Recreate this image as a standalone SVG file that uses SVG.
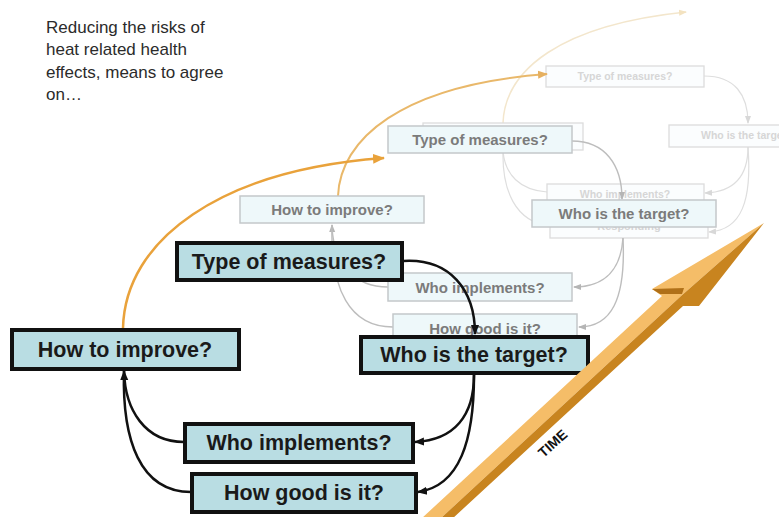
<svg xmlns="http://www.w3.org/2000/svg" width="779" height="517" viewBox="0 0 779 517">
<defs>
<style>
.txt{font-family:"Liberation Sans",Arial,sans-serif}
.fb rect{fill:#b9dde3;stroke:#111;stroke-width:4}
.fb text{font-family:"Liberation Sans",Arial,sans-serif;font-weight:bold;font-size:21.5px;fill:#1a1a1a;text-anchor:middle}
.mb rect{fill:#eef8fa;stroke:#c4c8ca;stroke-width:1.5}
.mb text{font-family:"Liberation Sans",Arial,sans-serif;font-weight:bold;font-size:15px;fill:#7b7b7b;text-anchor:middle}
.tb rect{fill:#fbfdfe;stroke:#dcdcdc;stroke-width:1.3}
.tb text{font-family:"Liberation Sans",Arial,sans-serif;font-weight:bold;font-size:10.5px;fill:#d6d6d6;text-anchor:middle}
.cf{fill:none;stroke:#111;stroke-width:2.5}
.cm{fill:none;stroke:#bdbdbd;stroke-width:1.4}
.ct{fill:none;stroke:#dedede;stroke-width:1.2}
</style>
<marker id="ab" markerWidth="10" markerHeight="10" refX="9" refY="5" orient="auto" markerUnits="userSpaceOnUse"><path d="M0,1 L10,5 L0,9 Z" fill="#111"/></marker>
<marker id="am" markerWidth="8" markerHeight="8" refX="7" refY="4" orient="auto" markerUnits="userSpaceOnUse"><path d="M0,1 L8,4 L0,7 Z" fill="#b5b5b5"/></marker>
<marker id="at" markerWidth="8" markerHeight="8" refX="7" refY="4" orient="auto" markerUnits="userSpaceOnUse"><path d="M0,1 L8,4 L0,7 Z" fill="#d8d8d8"/></marker>
<marker id="ao" markerWidth="12" markerHeight="12" refX="11" refY="6" orient="auto" markerUnits="userSpaceOnUse"><path d="M0,1 L12,6 L0,11 Z" fill="#e9a23b"/></marker>
<marker id="ao2" markerWidth="10" markerHeight="10" refX="9" refY="5" orient="auto" markerUnits="userSpaceOnUse"><path d="M0,1 L10,5 L0,9 Z" fill="#e6b060"/></marker>
<marker id="ao3" markerWidth="8" markerHeight="8" refX="7" refY="4" orient="auto" markerUnits="userSpaceOnUse"><path d="M0,1 L8,4 L0,7 Z" fill="#f3e2c0"/></marker>
</defs>
<rect width="779" height="517" fill="#fff"/>

<text class="txt" font-size="17" fill="#2b2b2b"><tspan x="46" y="33">Reducing the risks of</tspan><tspan x="46" y="55">heat related health</tspan><tspan x="46" y="78">effects, means to agree</tspan><tspan x="46" y="100">on…</tspan></text>

<!-- faint layer connectors -->
<g id="connectors-faint">
<path class="ct" d="M704,76 C735,76 748,95 748,123" marker-end="url(#at)"/>
<path class="ct" d="M748,147 C748,175 735,192 705,193" marker-end="url(#at)"/>
<path class="ct" d="M748,147 C752,200 742,230 709,232" marker-end="url(#at)"/>
<path class="ct" d="M547,192 C520,190 505,175 503,151"/>
<path class="ct" d="M550,226 C515,222 502,190 503,151"/>
<path d="M503,123 C505,70 560,25 686,12" fill="none" stroke="#f3e6cc" stroke-width="1.5" marker-end="url(#ao3)"/>
</g>

<!-- faint layer nodes -->
<g id="t-type" class="tb"><rect x="546" y="66" width="158" height="21"/><text x="625" y="80">Type of measures?</text></g>
<g id="t-target" class="tb"><rect x="669" y="125" width="130" height="22"/><text x="701" y="139" style="text-anchor:start">Who is the target?</text></g>
<g id="t-improve" class="tb"><rect x="423" y="123" width="160" height="27"/></g>
<g id="t-implements" class="tb"><rect x="547" y="184" width="157" height="22"/><text x="625" y="198">Who implements?</text></g>
<g id="t-responding" class="tb"><rect x="550" y="212" width="158" height="26"/><text x="629" y="230" style="font-size:11px">Responding</text></g>

<!-- middle layer connectors -->
<g id="connectors-middle">
<path class="cm" d="M572,141 C605,141 622,165 622,199" marker-end="url(#am)"/>
<path class="cm" d="M623,238 C621,268 606,287 574,287" marker-end="url(#am)"/>
<path class="cm" d="M623,238 C626,300 611,327 579,327" marker-end="url(#am)"/>
<path class="cm" d="M388,287 C355,287 333,265 332,225" marker-end="url(#am)"/>
<path class="cm" d="M393,327 C350,327 330,290 332,225"/>
<path d="M338,196 C340,140 400,85 547,74" fill="none" stroke="#e9b86a" stroke-width="2" marker-end="url(#ao2)"/>
</g>

<!-- middle layer nodes -->
<g id="m-type" class="mb"><rect x="388" y="126" width="184" height="27"/><text x="480" y="145">Type of measures?</text></g>
<g id="m-target" class="mb"><rect x="532" y="200" width="184" height="27"/><text x="624" y="219">Who is the target?</text></g>
<g id="m-improve" class="mb"><rect x="240" y="196" width="184" height="27"/><text x="332" y="215">How to improve?</text></g>
<g id="m-implements" class="mb"><rect x="388" y="273" width="184" height="28"/><text x="480" y="293">Who implements?</text></g>
<g id="m-good" class="mb"><rect x="393" y="314" width="184" height="27"/><text x="485" y="334">How good is it?</text></g>

<!-- front connectors -->
<g id="connectors-front">
<path d="M123,328 C125,240 220,170 384,158" fill="none" stroke="#e9a23b" stroke-width="2.5" marker-end="url(#ao)"/>
<path class="cf" d="M403,261 C450,258 475,290 475,334" marker-end="url(#ab)"/>
<path class="cf" d="M474,375 C474,415 455,440 415,442" marker-end="url(#ab)"/>
<path class="cf" d="M474,375 C474,440 460,486 418,492" marker-end="url(#ab)"/>
<path class="cf" d="M184,442 C145,442 125,410 124,371" marker-end="url(#ab)"/>
<path class="cf" d="M191,492 C140,492 122,440 124,371"/>
</g>

<!-- front nodes -->
<g id="f-type" class="fb"><rect x="177" y="243" width="225" height="37"/><text x="289" y="269">Type of measures?</text></g>
<g id="f-improve" class="fb"><rect x="12" y="330" width="227" height="39"/><text x="125" y="357">How to improve?</text></g>
<g id="f-target" class="fb"><rect x="361" y="337" width="227" height="36"/><text x="474" y="362">Who is the target?</text></g>
<g id="f-implements" class="fb"><rect x="185" y="424" width="228" height="38"/><text x="299" y="450">Who implements?</text></g>
<g id="f-good" class="fb"><rect x="192" y="474" width="224" height="38"/><text x="304" y="500">How good is it?</text></g>

<!-- time arrow -->
<g id="time">
<path d="M408,531 L662,296 L652,289 L764,223 L681,296 L427,531 Z" fill="#f5bd68"/>
<path d="M427,531 L681,296 L764,223 L699,306 L683,306 L439,531 Z" fill="#c8841f"/>
<path d="M652,289 L684,288 L682,294 L660,294 Z" fill="#b07018"/>
<text x="556" y="447" transform="rotate(-42 556 447)" font-family="Liberation Sans,Arial,sans-serif" font-weight="bold" font-size="14" fill="#111" text-anchor="middle">TIME</text>
</g>
</svg>
